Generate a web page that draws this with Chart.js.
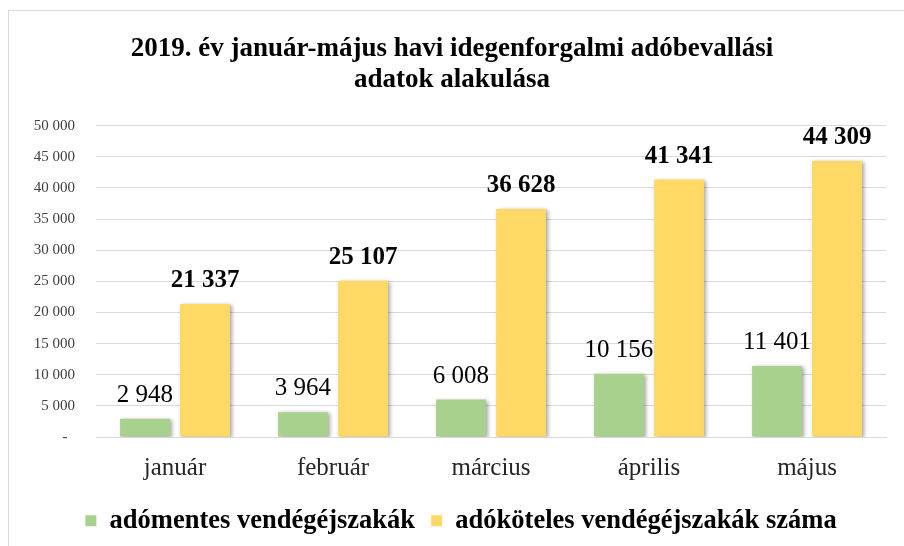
<!DOCTYPE html>
<html>
<head>
<meta charset="utf-8">
<script src="https://cdn.jsdelivr.net/npm/chart.js@4/dist/chart.umd.min.js"></script>
<style>
  html, body { margin: 0; padding: 0; background: #fff; }
  #wrap { position: relative; width: 904px; height: 546px; overflow: hidden; }
  #frame { position: absolute; left: 8px; top: 10px; width: 910px; height: 560px; border: 1px solid #d9d9d9; }
  #c { position: absolute; left: 0; top: 0; }
</style>
</head>
<body>
<div id="wrap">
  <div id="frame"></div>
  <canvas id="c" width="904" height="546"></canvas>
</div>
<script>
var months = ['január', 'február', 'március', 'április', 'május'];
var exemptNights = [2948, 3964, 6008, 10156, 11401];
var taxedNights = [21337, 25107, 36628, 41341, 44309];
var seriesNames = ['adómentes vendégéjszakák', 'adóköteles vendégéjszakák száma'];

var serif = '"Liberation Serif", "Times New Roman", serif';

function fmt(v) {
    if (v === 0) return '-  ';
    return String(v).replace(/\B(?=(\d{3})+(?!\d))/g, ' ');
}

// bar value labels, drawn above each bar
var valueLabels = {
    id: 'valueLabels',
    afterDatasetsDraw: function (chart) {
        var ctx = chart.ctx;
        ctx.save();
        ctx.textAlign = 'center';
        ctx.textBaseline = 'alphabetic';
        chart.data.datasets.forEach(function (ds, i) {
            var meta = chart.getDatasetMeta(i);
            ctx.font = (i === 1 ? 'bold ' : '') + '25px ' + serif;
            ctx.fillStyle = '#000';
            meta.data.forEach(function (bar, j) {
                ctx.fillText(fmt(ds.data[j]), bar.x, bar.y - 17);
            });
        });
        ctx.restore();
    }
};

// soft shadow behind the bars
var barShadow = {
    id: 'barShadow',
    beforeDatasetsDraw: function (chart) {
        var ctx = chart.ctx;
        ctx.save();
        ctx.shadowColor = 'rgba(0,0,0,0.35)';
        ctx.shadowBlur = 4;
        ctx.shadowOffsetX = 2;
        ctx.shadowOffsetY = 1;
    },
    afterDatasetsDraw: function (chart) {
        chart.ctx.restore();
    }
};

// legend sits a little right of the title in the original
var legendShift = {
    id: 'legendShift',
    afterLayout: function (chart) {
        if (chart.legend) {
            chart.legend.left += 9;
            chart.legend.right += 9;
        }
    }
};

new Chart(document.getElementById('c').getContext('2d'), {
    type: 'bar',
    data: {
        labels: months,
        datasets: [{
            label: seriesNames[0],
            data: exemptNights,
            backgroundColor: '#A9D18E',
            barPercentage: 0.83,
            categoryPercentage: 0.76
        }, {
            label: seriesNames[1],
            data: taxedNights,
            backgroundColor: '#FFD966',
            barPercentage: 0.83,
            categoryPercentage: 0.76
        }]
    },
    plugins: [barShadow, valueLabels, legendShift],
    options: {
        responsive: false,
        animation: false,
        layout: { padding: { left: 18, right: 18, top: 0, bottom: 2 } },
        plugins: {
            title: {
                display: true,
                text: ['2019. év január-május havi idegenforgalmi adóbevallási', 'adatok alakulása'],
                color: '#000',
                font: { family: serif, size: 27, weight: 'bold', lineHeight: 1.15 },
                padding: { top: 33.5, bottom: 30 }
            },
            legend: {
                position: 'bottom',
                labels: {
                    color: '#000',
                    font: { family: serif, size: 26.5, weight: 'bold' },
                    boxWidth: 11,
                    boxHeight: 11,
                    padding: 16
                }
            },
            tooltip: { enabled: false }
        },
        scales: {
            x: {
                afterFit: function (scale) { scale.height = 54.5; },
                grid: { display: false },
                border: { display: true, color: '#d9d9d9', width: 1 },
                ticks: {
                    color: '#262626',
                    font: { family: serif, size: 25 },
                    padding: 8
                }
            },
            y: {
                min: 0,
                max: 50000,
                afterFit: function (scale) { scale.width = 78; },
                grid: { color: '#d9d9d9', drawTicks: false },
                border: { display: false },
                ticks: {
                    stepSize: 5000,
                    color: '#404040',
                    font: { family: serif, size: 15 },
                    padding: 21,
                    callback: function (v) { return fmt(v); }
                }
            }
        }
    }
});
</script>
</body>
</html>
